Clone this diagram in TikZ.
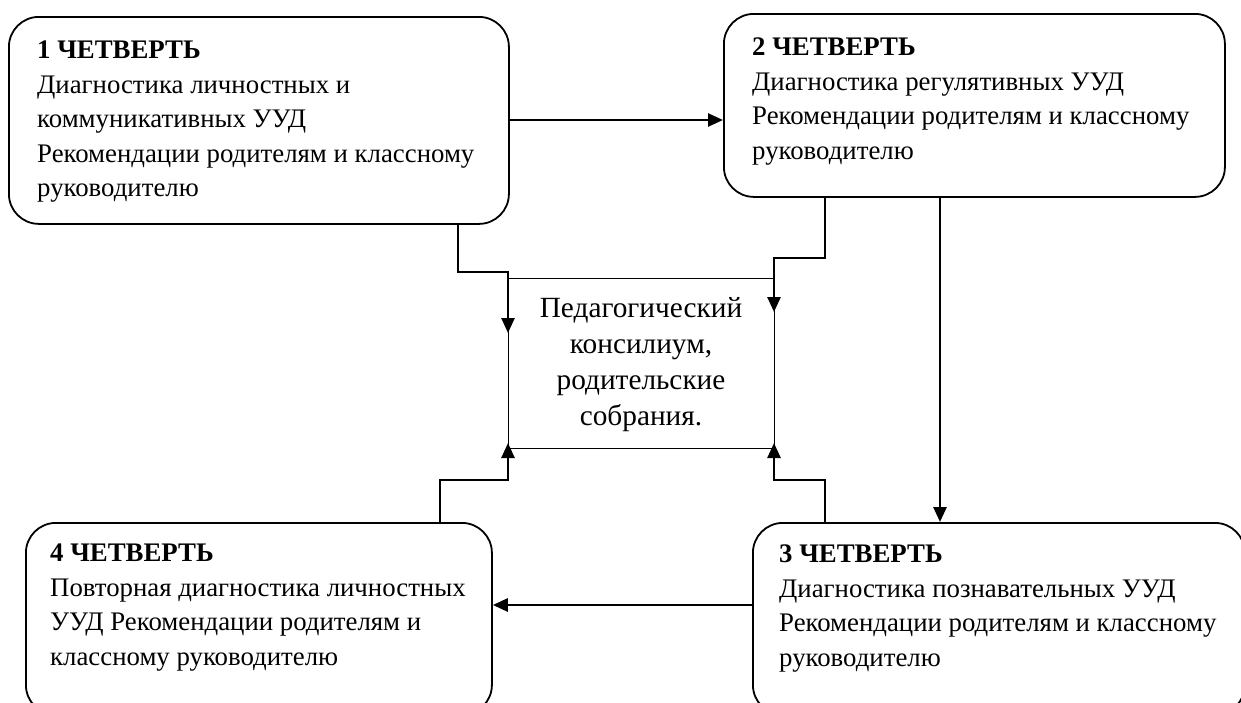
\documentclass[tikz,border=0pt]{standalone}
\usepackage{fontspec}
\setmainfont{Liberation Serif}
\usetikzlibrary{arrows.meta}
\begin{document}
\begin{tikzpicture}[x=1pt,y=-1pt,
  qbox/.style={draw, line width=1.8pt, rounded corners=30pt, minimum width=#1, inner sep=0pt, anchor=north west},
  qtext/.style={anchor=north west, inner sep=0pt, align=left, font=\fontsize{26.8}{34.5}\selectfont},
  cbox/.style={draw, line width=1.3pt, inner sep=0pt, anchor=north west, minimum width=266pt, minimum height=170pt},
  ctext/.style={align=center, inner sep=0pt, font=\fontsize{29.3}{36}\selectfont},
  conn/.style={line width=2.6pt, line join=miter},
  tip/.style={-{Triangle[length=15pt,width=13pt]}}]
\path[use as bounding box, clip] (0,0) rectangle (1241,702);
\fill[white] (0,0) rectangle (1241,702);

% quarter boxes
\node[qbox=500pt, minimum height=207pt] (q1) at (8,16) {};
\node[qbox=501pt, minimum height=183pt] (q2) at (723,13) {};
\node[qbox=466pt, minimum height=192pt] (q4) at (25,522) {};
\node[qbox=492pt, minimum height=192pt] (q3) at (752,522) {};

\node[qtext] (t1) at (37,41) {\textbf{1 ЧЕТВЕРТЬ}\\Диагностика личностных и\\коммуникативных УУД\\Рекомендации родителям и классному\\руководителю};
\node[qtext] (t2) at (752,38) {\textbf{2 ЧЕТВЕРТЬ}\\Диагностика регулятивных УУД\\Рекомендации родителям и классному\\руководителю};
\node[qtext] (t4) at (50,544) {\textbf{4 ЧЕТВЕРТЬ}\\Повторная диагностика личностных\\УУД Рекомендации родителям и\\классному руководителю};
\node[qtext] (t3) at (779,545) {\textbf{3 ЧЕТВЕРТЬ}\\Диагностика познавательных УУД\\Рекомендации родителям и классному\\руководителю};

% centre box
\node[cbox] (c) at (508,278) {};
\node[ctext] (ct) at (641,365) {Педагогический\\консилиум,\\родительские\\собрания.};

% helper coordinates
\coordinate (k1) at (458,272);
\coordinate (e1) at (508,333);
\coordinate (k2) at (825,258);
\coordinate (e2) at (774,312);
\coordinate (k3) at (940,0);
\coordinate (k4) at (0,605);
\coordinate (k5) at (825,480);
\coordinate (e5) at (774,443);
\coordinate (k6) at (440,480);
\coordinate (e6) at (508,443);
\coordinate (k7) at (0,120);

% connectors
\draw[conn, tip] (q1.east |- k7) -- (q2.west |- k7);
\draw[conn, tip] (q1.south -| k1) -- (k1) -- (k1 -| e1) -- (e1);
\draw[conn, tip] (q2.south -| k2) -- (k2) -- (k2 -| e2) -- (e2);
\draw[conn, tip] (q2.south -| k3) -- (q3.north -| k3);
\draw[conn, tip] (q3.west |- k4) -- (q4.east |- k4);
\draw[conn, tip] (q3.north -| k5) -- (k5) -- (k5 -| e5) -- (e5);
\draw[conn, tip] (q4.north -| k6) -- (k6) -- (k6 -| e6) -- (e6);
\end{tikzpicture}
\end{document}
